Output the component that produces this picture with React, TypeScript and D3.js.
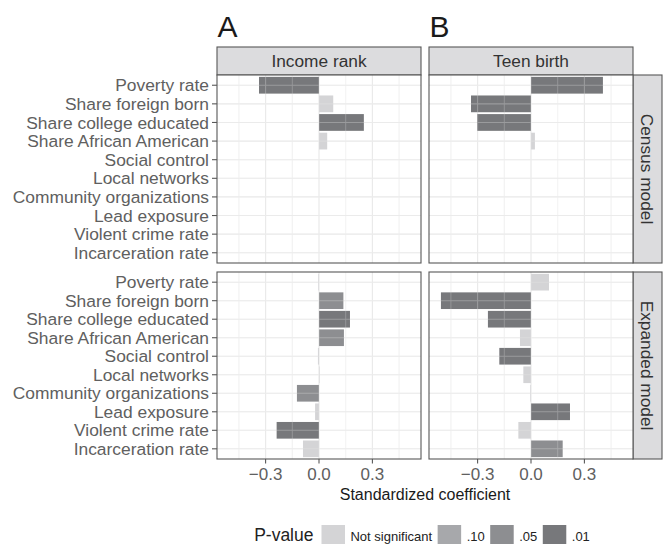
import React from "react";
import * as d3 from "d3";

// Predictors, listed top to bottom
const categories = [
  "Poverty rate",
  "Share foreign born",
  "Share college educated",
  "Share African American",
  "Social control",
  "Local networks",
  "Community organizations",
  "Lead exposure",
  "Violent crime rate",
  "Incarceration rate",
];

// Outcomes (columns) and models (rows)
const outcomes = ["Income rank", "Teen birth"];
const outcomeLetters = ["A", "B"];
const models = ["Census model", "Expanded model"];

// Standardized coefficients; null = predictor not in the model
const incomeCensus = [-0.337, 0.08, 0.252, 0.046, null, null, null, null, null, null];
const incomeCensusP = [".01", "ns", ".01", "ns", null, null, null, null, null, null];
const teenCensus = [0.404, -0.337, -0.303, 0.022, null, null, null, null, null, null];
const teenCensusP = [".01", ".01", ".01", "ns", null, null, null, null, null, null];
const incomeExpanded = [-0.004, 0.137, 0.174, 0.14, -0.006, 0.002, -0.124, -0.022, -0.238, -0.09];
const incomeExpandedP = ["ns", ".05", ".01", ".05", "ns", "ns", ".05", "ns", ".01", "ns"];
const teenExpanded = [0.101, -0.506, -0.242, -0.062, -0.178, -0.043, -0.004, 0.219, -0.071, 0.178];
const teenExpandedP = ["ns", ".01", ".01", "ns", ".01", "ns", "ns", ".01", "ns", ".05"];

// Significance levels for the legend
const pLevels = ["ns", ".10", ".05", ".01"];
const pLabels = ["Not significant", ".10", ".05", ".01"];

const xTicks = [-0.3, 0, 0.3];
const xMinor = [-0.45, -0.15, 0.15, 0.45];

const FONT = '"Liberation Sans", Arial, Helvetica, sans-serif';
const W = 667;
const H = 544;

const colX = [
  [217, 421],
  [429, 633],
];
const rowY = [
  [75, 263],
  [272, 459],
];
const stripTop = 47;
const stripRight = 662;

const fillScale = d3
  .scaleOrdinal<string, string>()
  .domain(pLevels)
  .range(["#d4d4d6", "#a7a8ab", "#8d8e91", "#77787b"]);

const panelValues = [
  [
    [incomeCensus, incomeCensusP],
    [teenCensus, teenCensusP],
  ],
  [
    [incomeExpanded, incomeExpandedP],
    [teenExpanded, teenExpandedP],
  ],
];

function measure(text: string, size: number) {
  const ctx = document.createElement("canvas").getContext("2d");
  if (!ctx) return text.length * size * 0.55;
  ctx.font = `${size}px ${FONT}`;
  return ctx.measureText(text).width;
}

function fmt(v: number) {
  const s = d3.format(".1f")(Math.abs(v));
  return v < 0 ? "\u2212" + s : s;
}

function Panel({ r, c }: { r: number; c: number }) {
  const [x0, x1] = colX[c];
  const [y0, y1] = rowY[r];
  const x = d3.scaleLinear().domain([-0.573, 0.573]).range([x0, x1]);
  const y = d3.scalePoint<string>().domain(categories).range([y0, y1]).padding(0.55);
  const bh = y.step() * 0.9;
  const [vals, ps] = panelValues[r][c] as [(number | null)[], (string | null)[]];

  const grid = (overlay: boolean) => (
    <g opacity={overlay ? 0.3 : 1}>
      {xMinor.map((t) => (
        <line key={"mn" + t} x1={x(t)} x2={x(t)} y1={y0} y2={y1} stroke="#f0f0f0" strokeWidth={0.8} />
      ))}
      {xTicks.map((t) => (
        <line key={"mj" + t} x1={x(t)} x2={x(t)} y1={y0} y2={y1} stroke="#ebebeb" strokeWidth={1.1} />
      ))}
      {categories.map((k) => (
        <line key={"h" + k} x1={x0} x2={x1} y1={y(k)} y2={y(k)} stroke="#ebebeb" strokeWidth={1.1} />
      ))}
    </g>
  );

  return (
    <g>
      <rect x={x0} y={y0} width={x1 - x0} height={y1 - y0} fill="#fff" />
      {grid(false)}
      {categories.map((k, i) => {
        const v = vals[i];
        if (v === null || v === undefined) return null;
        const a = x(Math.min(0, v));
        const b = x(Math.max(0, v));
        return (
          <rect
            key={k}
            x={a}
            y={(y(k) as number) - bh / 2}
            width={Math.max(b - a, 0.6)}
            height={bh}
            fill={fillScale(ps[i] as string)}
          />
        );
      })}
      {grid(true)}
      <rect x={x0} y={y0} width={x1 - x0} height={y1 - y0} fill="none" stroke="#585858" strokeWidth={1.1} />
      {c === 0 &&
        categories.map((k) => (
          <g key={"yl" + k}>
            <line x1={x0 - 5} x2={x0} y1={y(k)} y2={y(k)} stroke="#585858" strokeWidth={1.1} />
            <text x={x0 - 8} y={y(k)} dy="0.35em" textAnchor="end" fontSize={17.4} fill="#606060">
              {k}
            </text>
          </g>
        ))}
      {r === 1 &&
        xTicks.map((t) => (
          <g key={"xt" + t}>
            <line x1={x(t)} x2={x(t)} y1={y1} y2={y1 + 4.5} stroke="#585858" strokeWidth={1.1} />
            <text x={x(t)} y={480} textAnchor="middle" fontSize={17} fill="#606060">
              {fmt(t)}
            </text>
          </g>
        ))}
    </g>
  );
}

function Legend() {
  const keyW = 23.5;
  const keyH = 23;
  const keyTop = 525;
  const titleW = measure("P-value", 17.5);
  const widths = pLabels.map((l) => measure(l, 13));
  const total = titleW + 8 + widths.reduce((s, w) => s + keyW + 5.5 + w, 0) + 5.5 * (pLabels.length - 1);
  let cx = 422 - total / 2;
  const titleX = cx;
  cx += titleW + 8;
  const items = pLevels.map((lv, i) => {
    const kx = cx;
    const tx = kx + keyW + 5.5;
    cx = tx + widths[i] + 5.5;
    return { lv, label: pLabels[i], kx, tx };
  });
  const mid = 535;
  return (
    <g>
      <text x={titleX} y={mid - 0.5} dy="0.35em" fontSize={17.5} fill="#222">
        P-value
      </text>
      {items.map((d) => (
        <g key={d.lv}>
          <rect x={d.kx} y={keyTop} width={keyW} height={keyH} fill={fillScale(d.lv)} />
          <text x={d.tx} y={mid + 1} dy="0.35em" fontSize={13} fill="#222">
            {d.label}
          </text>
        </g>
      ))}
    </g>
  );
}

export default function App() {
  return (
    <svg
      width={W}
      height={H}
      style={{ position: "absolute", left: 0, top: 0, background: "#fff" }}
      fontFamily={FONT}
    >
      <rect width={W} height={H} fill="#fff" />
      {outcomes.map((o, c) => {
        const [x0, x1] = colX[c];
        return (
          <g key={o}>
            <text x={x0 + 0.5} y={37} fontSize={30} fill="#1a1a1a">
              {outcomeLetters[c]}
            </text>
            <rect
              x={x0}
              y={stripTop}
              width={x1 - x0}
              height={rowY[0][0] - stripTop}
              fill="#dcdcde"
              stroke="#585858"
              strokeWidth={1.1}
            />
            <text
              x={(x0 + x1) / 2}
              y={(stripTop + rowY[0][0]) / 2}
              dy="0.35em"
              textAnchor="middle"
              fontSize={17.3}
              fill="#333"
            >
              {o}
            </text>
          </g>
        );
      })}
      {models.map((m, r) => {
        const [y0, y1] = rowY[r];
        const sx0 = colX[1][1];
        const cy = (y0 + y1) / 2;
        const cx = (sx0 + stripRight) / 2;
        return (
          <g key={m}>
            <rect
              x={sx0}
              y={y0}
              width={stripRight - sx0}
              height={y1 - y0}
              fill="#dcdcde"
              stroke="#585858"
              strokeWidth={1.1}
            />
            <text
              transform={`translate(${cx},${cy}) rotate(90)`}
              dy="0.35em"
              textAnchor="middle"
              fontSize={17.3}
              fill="#333"
            >
              {m}
            </text>
          </g>
        );
      })}
      {models.map((m, r) => outcomes.map((o, c) => <Panel key={m + o} r={r} c={c} />))}
      <text x={425} y={500} textAnchor="middle" fontSize={16} fill="#1a1a1a">
        Standardized coefficient
      </text>
      <Legend />
    </svg>
  );
}
